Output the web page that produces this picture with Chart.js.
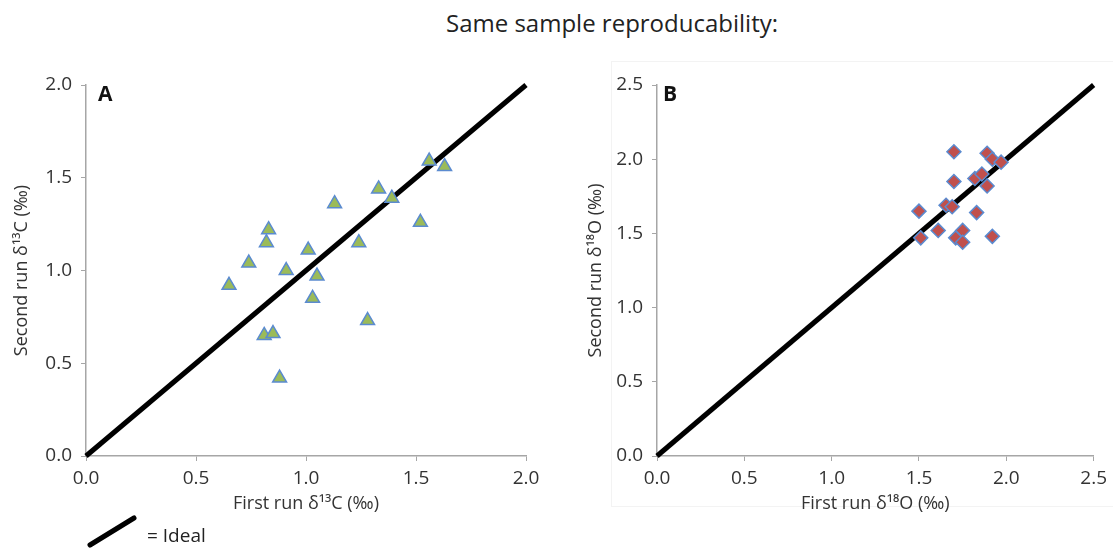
<!DOCTYPE html>
<html>
<head>
<meta charset="utf-8">
<script src="https://cdn.jsdelivr.net/npm/chart.js@4.4.1/dist/chart.umd.min.js"></script>
<style>
  body { margin: 0; background: #fff; width: 1113px; height: 550px; overflow: hidden; position: relative; font-family: "Open Sans", sans-serif; }
  #title { position: absolute; left: 0; width: 1224px; top: 6px; text-align: center; font-size: 24px; color: #222; }
  #chartA { position: absolute; left: 0; top: 0; }
  #chartB { position: absolute; left: 556px; top: 0; }
  #frameB { position: absolute; left: 611px; top: 61px; width: 520px; height: 444px; border: 1px solid #f3f3f3; }
  .panel { position: absolute; font-weight: bold; font-size: 21px; color: #111; }
</style>
</head>
<body>
<div id="title">Same sample reproducability:</div>
<div id="frameB"></div>
<canvas id="chartA" width="560" height="550"></canvas>
<canvas id="chartB" width="557" height="550"></canvas>
<div class="panel" style="left:98px; top:79px;">A</div>
<div class="panel" style="left:663px; top:79px;">B</div>

<script>
// panel A: carbon, first vs second run
const firstRunC  = [0.65, 0.74, 0.83, 0.82, 0.81, 0.85, 0.88, 0.91, 1.01, 1.05, 1.03, 1.13, 1.24, 1.28, 1.33, 1.39, 1.52, 1.56, 1.63];
const secondRunC = [0.92, 1.04, 1.22, 1.15, 0.65, 0.66, 0.42, 1.00, 1.11, 0.97, 0.85, 1.36, 1.15, 0.73, 1.44, 1.39, 1.26, 1.59, 1.56];

// panel B: oxygen, first vs second run
const firstRunO  = [1.70, 1.89, 1.92, 1.97, 1.70, 1.82, 1.86, 1.89, 1.655, 1.69, 1.50, 1.83, 1.61, 1.51, 1.75, 1.71, 1.75, 1.92];
const secondRunO = [2.05, 2.04, 2.00, 1.98, 1.85, 1.87, 1.90, 1.82, 1.69, 1.68, 1.65, 1.64, 1.52, 1.47, 1.52, 1.47, 1.44, 1.48];

// 1:1 "ideal" line ends
const idealA = [0, 2];
const idealB = [0, 2.5];

const ticksA = [0, 0.5, 1, 1.5, 2];
const ticksB = [0, 0.5, 1, 1.5, 2, 2.5];

const FONT = '"Open Sans", sans-serif';
const axisGrey = '#a6a6a6';

function pairs(xs, ys) { return xs.map((x, i) => ({ x: x, y: ys[i] })); }

function makeAxis(tickVals, title, isY, titlePad) {
    return {
        type: 'linear',
        min: tickVals[0],
        max: tickVals[tickVals.length - 1],
        afterBuildTicks: s => { s.ticks = tickVals.map(v => ({ value: v })); },
        afterFit: s => { if (isY) s.width = titlePad.w; else s.height = 60; },
        grid: { display: true, drawOnChartArea: false, drawTicks: true, tickLength: 5, color: axisGrey },
        border: { display: true, color: axisGrey, width: 1.5 },
        ticks: {
            padding: isY ? 9 : 6,
            color: '#333',
            font: { family: FONT, size: 19 },
            callback: v => Number(v).toFixed(1)
        },
        title: {
            display: true,
            text: title,
            color: '#333',
            font: { family: FONT, size: 18 },
            padding: isY ? { top: titlePad.t, bottom: 0 } : { top: 0, bottom: 1 }
        }
    };
}

// legend glyph under panel A
const idealLegend = {
    id: 'idealLegend',
    afterDraw(chart) {
        const c = chart.ctx;
        c.save();
        c.strokeStyle = '#000';
        c.lineWidth = 5;
        c.lineCap = 'round';
        c.beginPath();
        c.moveTo(90, 545);
        c.lineTo(134, 518);
        c.stroke();
        c.fillStyle = '#222';
        c.font = '19px ' + FONT;
        c.textBaseline = 'middle';
        c.fillText('= Ideal', 147, 537);
        c.restore();
    }
};

function makeChart(id, xs, ys, ideal, ticks, xTitle, yTitle, marker, pad, yPad, plugins) {
    return new Chart(document.getElementById(id), {
        type: 'scatter',
        data: {
            datasets: [
                {
                    data: pairs(xs, ys),
                    pointStyle: marker.style,
                    pointRadius: marker.r,
                    pointBackgroundColor: marker.fill,
                    pointBorderColor: '#5b8bd0',
                    pointBorderWidth: 1.5
                },
                {
                    data: pairs(ideal, ideal),
                    showLine: true,
                    borderColor: '#000',
                    borderWidth: 5,
                    pointRadius: 0,
                    clip: false
                }
            ]
        },
        options: {
            responsive: false,
            animation: false,
            events: [],
            layout: { padding: pad },
            plugins: { legend: { display: false }, tooltip: { enabled: false } },
            scales: {
                x: makeAxis(ticks, xTitle, false),
                y: makeAxis(ticks, yTitle, true, yPad)
            }
        },
        plugins: plugins
    });
}

makeChart('chartA', firstRunC, secondRunC, idealA, ticksA,
    'First run δ¹³C (‰)', 'Second run δ¹³C (‰)',
    { style: 'triangle', r: 8, fill: '#9bbb59' },
    { left: 0, top: 85, right: 34, bottom: 34 }, { w: 86, t: 11 }, [idealLegend]);

makeChart('chartB', firstRunO, secondRunO, idealB, ticksB,
    'First run δ¹⁸O (‰)', 'Second run δ¹⁸O (‰)',
    { style: 'rectRot', r: 7, fill: '#c0504d' },
    { left: 0, top: 85, right: 17, bottom: 34 }, { w: 101, t: 29 }, []);
</script>
</body>
</html>
